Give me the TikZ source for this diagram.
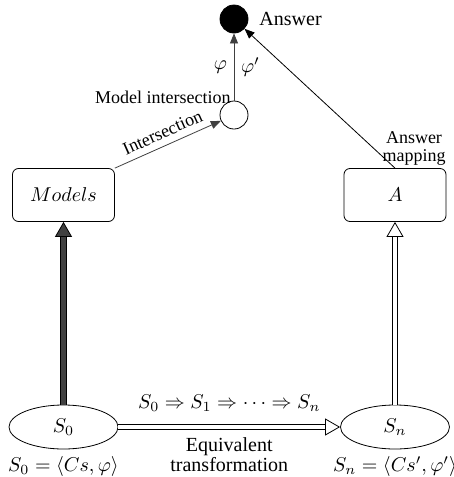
\documentclass[tikz,border=0pt]{standalone}
\usepackage[no-math]{fontspec}
\setmainfont{Liberation Serif}
\usepackage{amsmath,amssymb}
\usetikzlibrary{arrows.meta}
\usetikzlibrary{shapes.geometric}

\begin{document}
\begin{tikzpicture}[
		x=0.5pt, y=-0.5pt,
		thin,
		>={Triangle[length=5pt,width=4pt]},
		box/.style={draw,rounded corners=3pt,minimum width=51pt,minimum height=26.5pt},
		stateell/.style={draw,ellipse,minimum width=54.5pt,minimum height=22pt,inner sep=0pt},
		dot/.style={draw,circle,minimum size=14pt,inner sep=0pt},
		fatarrow/.style={draw=black,double=darkgray,double distance=2.4pt,-{Triangle[length=7.5pt,width=8.5pt,fill=darkgray]}},
		hollowarrow/.style={double,double distance=2.4pt,-{Triangle[open,length=7.5pt,width=8.5pt]}}
	]
		\useasboundingbox (0,0) rectangle (454,477);

		% Circles
		\node[dot,fill=black,label={[label distance=2pt]right:Answer}] (ans) at (234, 19) {};
		\node[dot] (mi) at (234, 115) {};
		\node[anchor=east,font=\small,inner sep=0pt] (mitext) at (231, 97) {Model intersection};

		% Boxes
		\node[box] (models) at (63.5, 195) {$Models$};
		\node[box] (A) at (395, 195) {$A$};

		% States
		\node[stateell,label={[label distance=0pt]below:$S_0=\langle Cs,\varphi\rangle$}] (S0) at (63.5, 427) {$S_0$};
		\node[stateell,label={[label distance=0pt]below:$S_n=\langle Cs',\varphi'\rangle$}] (Sn) at (395, 427) {$S_n$};

		% Arrows
		\draw[->,darkgray] (mi) -- (ans)
			node[midway,left,black] {$\varphi$}
			node[midway,right,black] {$\varphi'$};
		\draw[->,darkgray] (models.north east) -- (mi)
			node[midway,above,sloped,black,font=\small] {Intersection};
		\draw[->] (A.north) -- (ans);
		\node[align=center,font=\small,inner sep=0pt] (maptext) at (414, 148) {Answer\\[-2pt]mapping};
		\draw[fatarrow] (S0) -- (models);
		\draw[hollowarrow] (Sn) -- (A);
		\draw[hollowarrow] (S0) -- (Sn)
			node[midway,above=4pt] {$S_0\Rightarrow S_1\Rightarrow\cdots\Rightarrow S_n$}
			node[midway,below=2pt,align=center] {Equivalent\\[-2pt]transformation};
	\end{tikzpicture}
\end{document}
